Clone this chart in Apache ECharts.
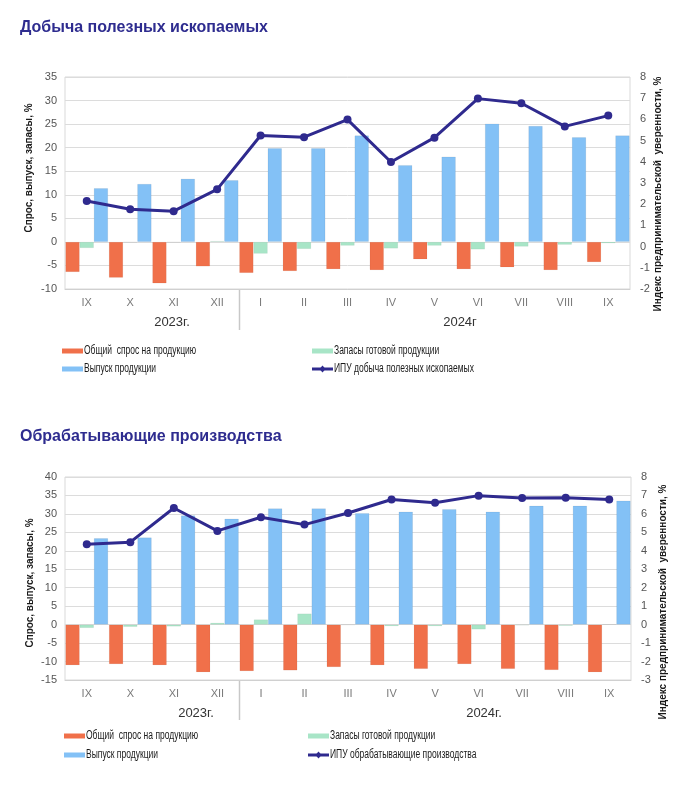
<!DOCTYPE html>
<html><head><meta charset="utf-8">
<script src="https://cdn.jsdelivr.net/npm/echarts@6/dist/echarts.min.js"></script>
<style>html,body{margin:0;padding:0;background:#fff;}#c1,#c2{width:686px;height:400px;}</style>
</head><body><div id="c1"></div><div id="c2"></div>
<script>
const months = ['IX','X','XI','XII','I','II','III','IV','V','VI','VII','VIII','IX'];

const miningDemand = [-6.4,-7.6,-8.8,-5.2,-6.6,-6.2,-5.8,-6.0,-3.7,-5.8,-5.4,-6.0,-4.3];
const miningStocks = [-1.3,-0.1,-0.1,0.2,-2.5,-1.5,-0.8,-1.4,-0.8,-1.6,-1.0,-0.6,-0.3];
const miningOutput = [11.4,12.3,13.4,13.1,19.9,19.9,22.6,16.3,18.1,25.1,24.6,22.2,22.6];
const miningBCI    = [2.15,1.76,1.67,2.7,5.24,5.16,5.99,3.99,5.14,6.98,6.76,5.67,6.18];

const manufDemand = [-11.0,-10.7,-11.0,-12.9,-12.6,-12.4,-11.5,-11.0,-12.0,-10.7,-12.0,-12.3,-12.9];
const manufStocks = [-0.9,-0.6,-0.5,0.5,1.4,3.0,-0.1,-0.4,-0.4,-1.3,-0.2,-0.3,0.1];
const manufOutput = [23.4,23.6,29.6,28.7,31.5,31.5,30.2,30.6,31.3,30.6,32.2,32.2,33.6];
const manufBCI    = [4.36,4.47,6.32,5.08,5.82,5.42,6.05,6.78,6.61,6.99,6.86,6.88,6.78];

const nameDemand = 'Общий  спрос на продукцию';
const nameStocks = 'Запасы готовой продукции';
const nameOutput = 'Выпуск продукции';
const leftAxisName = 'Спрос, выпуск, запасы, %';
const rightAxisName = 'Индекс предпринимательской  уверенности, %';

const C_OR = '#f0704a', C_GR = '#a8e5c7', C_BL = '#83c1f6', C_LN = '#2f2a8e', C_TITLE = '#2e2c8f';
const FONT = '"Liberation Sans", Arial, sans-serif';

function legendEl(kind, color, name, x, yc) {
  const children = [];
  if (kind === 'bar') {
    children.push({type: 'rect', shape: {x: x, y: yc - 2.5, width: 21, height: 5}, style: {fill: color}});
  } else {
    children.push({type: 'line', shape: {x1: x, y1: yc, x2: x + 21, y2: yc}, style: {stroke: color, lineWidth: 3}});
    children.push({type: 'polygon', shape: {points: [[x + 10.5, yc - 3.5], [x + 13.5, yc], [x + 10.5, yc + 3.5], [x + 7.5, yc]]},
      style: {fill: color}});
  }
  children.push({type: 'text', x: x + 22, y: yc, scaleX: 0.68,
    style: {text: name, fill: '#1a1a1a', font: '12.5px ' + FONT, align: 'left', verticalAlign: 'middle'}});
  return {type: 'group', children: children};
}

function build(el, cfg) {
  const chart = echarts.init(document.getElementById(el), null, {renderer: 'canvas'});
  const option = {
    animation: false,
    textStyle: {fontFamily: FONT},
    grid: {left: 65, right: cfg.gridRight, top: cfg.gridTop, bottom: cfg.gridBottom,
           show: true, borderColor: '#d9d9d9', borderWidth: 1},
    xAxis: {
      type: 'category', data: months,
      axisLine: {show: true, onZero: false, lineStyle: {color: '#d0d0d0'}},
      axisTick: {show: false},
      axisLabel: {color: '#7a7a7a', fontSize: 11, margin: 8, interval: 0}
    },
    yAxis: [
      {type: 'value', min: cfg.lMin, max: cfg.lMax, interval: 5,
       axisLabel: {color: '#555', fontSize: 11, margin: 8},
       splitLine: {lineStyle: {color: '#dcdcdc'}}, axisLine: {show: false}, axisTick: {show: false}},
      {type: 'value', min: cfg.rMin, max: cfg.rMax, interval: 1, position: 'right',
       axisLabel: {color: '#555', fontSize: 11, margin: 10},
       splitLine: {show: false}, axisLine: {show: false}, axisTick: {show: false}}
    ],
    series: [
      {name: nameDemand, type: 'bar', data: cfg.demand, barGap: '0%', barCategoryGap: '2%',
       itemStyle: {color: C_OR, borderColor: 'rgba(0,0,0,0.08)', borderWidth: 0.6}},
      {name: nameStocks, type: 'bar', data: cfg.stocks, barGap: '0%', barCategoryGap: '2%',
       itemStyle: {color: C_GR, borderColor: 'rgba(0,0,0,0.08)', borderWidth: 0.6}},
      {name: nameOutput, type: 'bar', data: cfg.output, barGap: '0%', barCategoryGap: '2%',
       itemStyle: {color: C_BL, borderColor: 'rgba(0,0,0,0.1)', borderWidth: 0.6}},
      {name: cfg.lineName, type: 'line', yAxisIndex: 1, data: cfg.bci, symbol: 'circle', symbolSize: 8,
       lineStyle: {color: C_LN, width: 3}, itemStyle: {color: C_LN}, z: 5}
    ]
  };
  chart.setOption(option);
  const x3 = chart.convertToPixel({xAxisIndex: 0}, 3);
  const x4 = chart.convertToPixel({xAxisIndex: 0}, 4);
  const sepX = Math.round((x3 + x4) / 2) + 0.5;
  const axisY = chart.convertToPixel({yAxisIndex: 0}, cfg.lMin);
  chart.setOption({
    graphic: [
      {type: 'text', left: 20, top: cfg.titleTop, style: {text: cfg.title, fill: C_TITLE,
        font: 'bold 16px ' + FONT}},
      {type: 'line', shape: {x1: sepX, y1: axisY, x2: sepX, y2: axisY + cfg.sepLen},
        style: {stroke: '#c8c8c8', lineWidth: 1.5}},
      {type: 'text', x: cfg.y1x, y: cfg.yearY, style: {text: cfg.year1, fill: '#333',
        font: '13px ' + FONT, align: 'center', verticalAlign: 'middle'}},
      {type: 'text', x: cfg.y2x, y: cfg.yearY, style: {text: cfg.year2, fill: '#333',
        font: '13px ' + FONT, align: 'center', verticalAlign: 'middle'}},
      {type: 'text', x: cfg.lnX, y: cfg.lnY, rotation: Math.PI / 2,
        style: {text: leftAxisName, fill: '#1a1a1a', font: 'bold 10px ' + FONT, align: 'center', verticalAlign: 'middle'}},
      {type: 'text', x: cfg.rnX, y: cfg.rnY, rotation: Math.PI / 2,
        style: {text: rightAxisName, fill: '#1a1a1a', font: 'bold 10px ' + FONT, align: 'center', verticalAlign: 'middle'}},
      legendEl('bar', C_OR, nameDemand, cfg.lx1, cfg.ly1),
      legendEl('bar', C_GR, nameStocks, cfg.lx2, cfg.ly1),
      legendEl('bar', C_BL, nameOutput, cfg.lx1, cfg.ly2),
      legendEl('line', C_LN, cfg.lineName, cfg.lx2, cfg.ly2)
    ]
  });
  return chart;
}

build('c1', {
  title: 'Добыча полезных ископаемых', titleTop: 20,
  gridTop: 77, gridBottom: 111, gridRight: 56,
  lMin: -10, lMax: 35, rMin: -2, rMax: 8,
  demand: miningDemand, stocks: miningStocks, output: miningOutput, bci: miningBCI,
  lineName: 'ИПУ добыча полезных ископаемых',
  lx1: 62, lx2: 312, ly1: 351, ly2: 369,
  lnX: 29, lnY: 168, rnX: 658, rnY: 194,
  sepLen: 41, year1: '2023г.', year2: '2024г', y1x: 172, y2x: 460, yearY: 322
});
build('c2', {
  title: 'Обрабатывающие производства', titleTop: 29,
  gridTop: 77, gridBottom: 120, gridRight: 55,
  lMin: -15, lMax: 40, rMin: -3, rMax: 8,
  demand: manufDemand, stocks: manufStocks, output: manufOutput, bci: manufBCI,
  lineName: 'ИПУ обрабатывающие производства',
  lx1: 64, lx2: 308, ly1: 336, ly2: 355,
  lnX: 30, lnY: 183, rnX: 663, rnY: 202,
  sepLen: 40, year1: '2023г.', year2: '2024г.', y1x: 196, y2x: 484, yearY: 313
});
</script></body></html>
